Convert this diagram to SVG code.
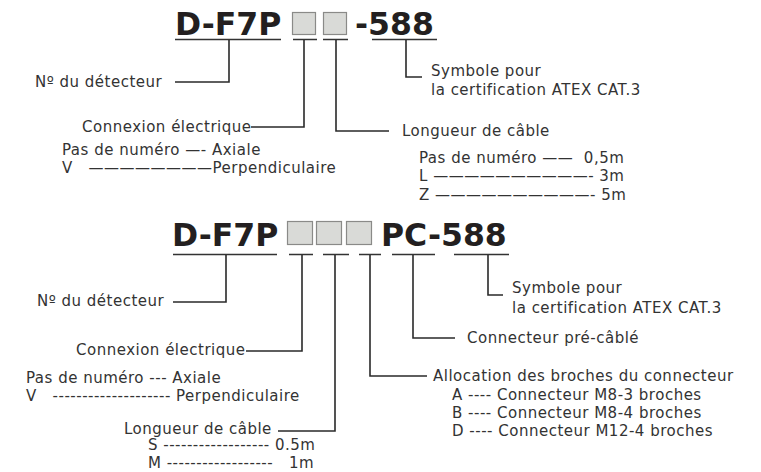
<svg xmlns="http://www.w3.org/2000/svg" width="761" height="472" viewBox="0 0 761 472">
<style>
.t{font-family:"DejaVu Sans",Verdana,sans-serif;font-size:15px;letter-spacing:0.5px;fill:#333;white-space:pre}
.b{font-family:"DejaVu Sans",Verdana,sans-serif;font-weight:bold;font-size:31.5px;fill:#231f20}
.ul{stroke:#333;stroke-width:1.6;fill:none}
.c{stroke:#2a2a2a;stroke-width:1.6;fill:none}
.bx{fill:#d9dad7;stroke:#8a8a88;stroke-width:1.2}
</style>
<rect width="761" height="472" fill="#fff"/>
<g id="code1">
<text class="b" x="175" y="35">D-F7P</text>
<rect class="bx" x="292.5" y="12.5" width="23" height="22"/>
<rect class="bx" x="323.5" y="12.5" width="23" height="22"/>
<text class="b" x="355" y="35">-588</text>
<path class="ul" d="M175,39.5H281M293,39.5H317M323,39.5H348M372,39.5H437"/>
</g>
<g id="code2">
<text class="b" x="172" y="246">D-F7P</text>
<rect class="bx" x="287.5" y="221.5" width="25" height="23"/>
<rect class="bx" x="316.5" y="221.5" width="25" height="23"/>
<rect class="bx" x="346.5" y="221.5" width="25" height="23"/>
<text class="b" x="381" y="246">PC-588</text>
<path class="ul" d="M173,254.5H277M289,254.5H313M323,254.5H349M359,254.5H381M392,254.5H435M454,254.5H509"/>
</g>
<g id="connectors">
<path class="c" d="M229,40V82H175"/>
<path class="c" d="M304,40V127H251"/>
<path class="c" d="M336,40V131H389"/>
<path class="c" d="M406,40V77H422"/>
<path class="c" d="M226,255V302H173"/>
<path class="c" d="M302,255V351H246"/>
<path class="c" d="M335,255V431H278"/>
<path class="c" d="M370,255V376H427"/>
<path class="c" d="M413,255V338H455"/>
<path class="c" d="M488,255V295H503"/>
</g>
<g id="labels1">
<text class="t" x="35" y="87">Nº du détecteur</text>
<text class="t" x="82" y="132">Connexion électrique</text>
<text class="t" x="62" y="155">Pas de numéro —- Axiale</text>
<text class="t" x="62" y="173">V   ————————Perpendiculaire</text>
<text class="t" x="431" y="76">Symbole pour</text>
<text class="t" x="431" y="95">la certification ATEX CAT.3</text>
<text class="t" x="402" y="136">Longueur de câble</text>
<text class="t" x="419" y="163">Pas de numéro ——  0,5m</text>
<text class="t" x="419" y="181">L ——————————- 3m</text>
<text class="t" x="419" y="200">Z ——————————- 5m</text>
</g>
<g id="labels2">
<text class="t" x="37" y="306">Nº du détecteur</text>
<text class="t" x="76" y="355">Connexion électrique</text>
<text class="t" x="26" y="383">Pas de numéro --- Axiale</text>
<text class="t" x="26" y="401">V   -------------------- Perpendiculaire</text>
<text class="t" x="124" y="434">Longueur de câble</text>
<text class="t" x="148" y="450">S ------------------ 0.5m</text>
<text class="t" x="148" y="468">M ------------------   1m</text>
<text class="t" x="512" y="293">Symbole pour</text>
<text class="t" x="512" y="313">la certification ATEX CAT.3</text>
<text class="t" x="467" y="343">Connecteur pré-câblé</text>
<text class="t" x="433" y="381">Allocation des broches du connecteur</text>
<text class="t" x="452" y="400">A ---- Connecteur M8-3 broches</text>
<text class="t" x="452" y="418">B ---- Connecteur M8-4 broches</text>
<text class="t" x="452" y="436">D ---- Connecteur M12-4 broches</text>
</g>
</svg>
